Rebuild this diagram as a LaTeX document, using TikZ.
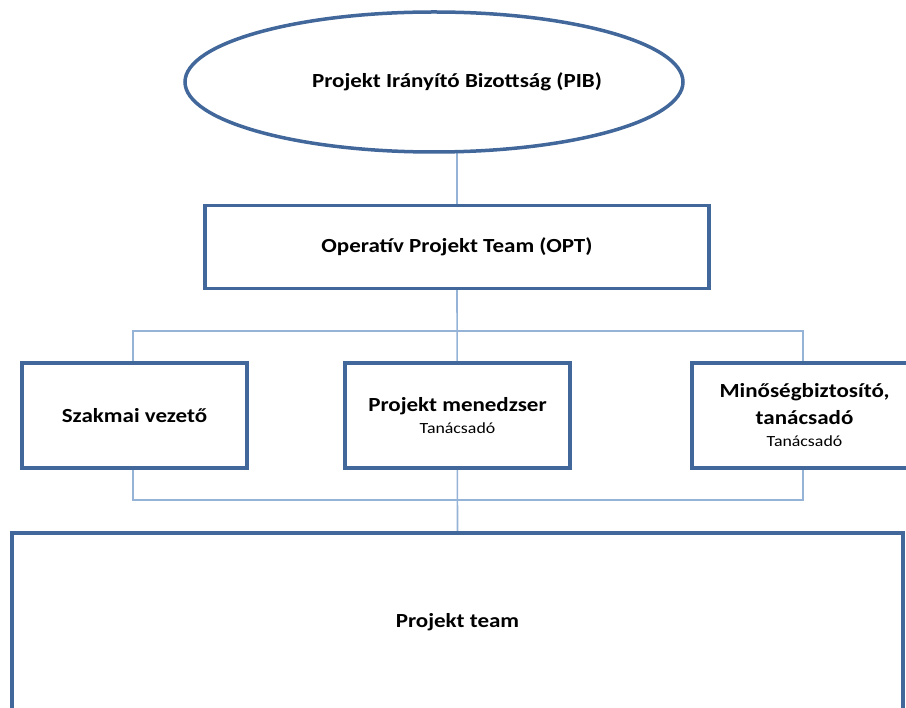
\documentclass[tikz,border=0pt]{standalone}
\usepackage{fontspec}
\setmainfont{Carlito}[FakeStretch=1.15]
\usetikzlibrary{shapes.geometric,backgrounds}
\definecolor{boxblue}{HTML}{41679B}
\definecolor{linkblue}{HTML}{95B3D7}
\newcommand{\notefont}{\mdseries\fontsize{15.5}{18}\selectfont}
\begin{document}
\begin{tikzpicture}[
  x=1pt, y=-1pt,
  box node/.style={draw=boxblue, line width=3.5pt, fill=white, rectangle, align=center, font=\bfseries\fontsize{20}{27}\selectfont},
  oval node/.style={draw=boxblue, line width=3.5pt, fill=white, ellipse, inner sep=0pt, font=\bfseries\fontsize{20}{24}\selectfont},
  link edge/.style={draw=linkblue, line width=1.6pt}
]
\useasboundingbox (0,0) rectangle (906,708);
\clip (0,0) rectangle (906,708);
% Define the nodes
\node[oval node, minimum width=498, minimum height=140] (PIB) at (434,82) {\hspace*{46pt}Projekt Irányító Bizottság (PIB)};
\node[box node, minimum width=504, minimum height=83] (OPT) at (457,247) {Operatív Projekt Team (OPT)};
\node[box node, minimum width=225, minimum height=105] (SzV) at (134.5,415.5) {Szakmai vezető};
\node[box node, minimum width=225, minimum height=105] (PM) at (457.5,415.5) {Projekt menedzser\\[-5pt]{\notefont Tanácsadó}};
\node[box node, minimum width=225, minimum height=105] (MB) at (804.5,415.5) {Minőségbiztosító,\\tanácsadó\\[-5pt]{\notefont Tanácsadó}};
\node[box node, minimum width=891, minimum height=178] (PT) at (457.5,622) {Projekt team};
% Define the edges
\coordinate (busTL) at (133,331);
\coordinate (busBR) at (803,500);
\begin{scope}[on background layer]
\path[link edge] (PIB.center -| OPT.north) -- (OPT.north);
\path[link edge] (OPT.south) -- (PT.north);
\path[link edge] (busTL) rectangle (busBR);
\end{scope}
\end{tikzpicture}
\end{document}
